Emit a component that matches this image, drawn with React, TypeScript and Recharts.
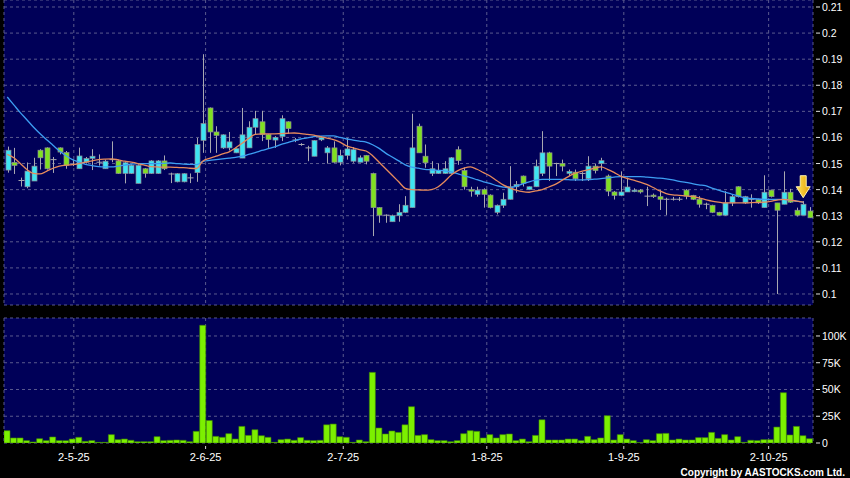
import React from 'react';
import { ComposedChart, Bar, Line, XAxis, YAxis, CartesianGrid, ReferenceDot } from 'recharts';

// ---- Data (124 trading days) ----
const openP = [
  0.1475, 0.1504, 0.1435, 0.1411, 0.1433, 0.1551, 0.156, 0.1515, 0.156, 0.1542,
  0.1497, 0.148, 0.1505, 0.152, 0.1505, 0.148, 0.1515, 0.151, 0.1462, 0.1462,
  0.1424, 0.148, 0.1462, 0.1462, 0.151, 0.146, 0.143, 0.143, 0.1445, 0.1465,
  0.1589, 0.1713, 0.1621, 0.156, 0.156, 0.1541, 0.1521, 0.156, 0.1639, 0.166,
  0.1611, 0.159, 0.1604, 0.166, 0.159, 0.1573, 0.156, 0.1528, 0.1591, 0.1541,
  0.156, 0.1505, 0.1531, 0.1509, 0.1505, 0.1531, 0.1462, 0.1331, 0.1302, 0.1277,
  0.13, 0.1313, 0.1331, 0.1643, 0.1528, 0.1462, 0.1462, 0.1462, 0.1462, 0.1553,
  0.1473, 0.14, 0.1382, 0.14, 0.1379, 0.1313, 0.134, 0.1363, 0.1411, 0.1452,
  0.14, 0.1411, 0.1462, 0.1541, 0.15, 0.15, 0.1462, 0.1467, 0.1462, 0.1442,
  0.149, 0.15, 0.1452, 0.1391, 0.1378, 0.1391, 0.1393, 0.1398, 0.1375, 0.1379,
  0.1373, 0.1363, 0.1363, 0.1363, 0.1398, 0.1378, 0.1363, 0.1344, 0.134, 0.1313,
  0.1302, 0.1349, 0.1411, 0.1349, 0.1363, 0.1363, 0.1331, 0.1398, 0.1349, 0.1344,
  0.139, 0.1321, 0.1302, 0.1318,
];
const highP = [
  0.1565, 0.156, 0.1446, 0.1504, 0.1522, 0.1555, 0.1562, 0.1525, 0.1562, 0.1548,
  0.1515, 0.1561, 0.1525, 0.1555, 0.1535, 0.1515, 0.1585, 0.1515, 0.1506, 0.1497,
  0.1497, 0.1483, 0.1513, 0.1513, 0.1531, 0.1465, 0.1463, 0.1463, 0.1462, 0.1598,
  0.1919, 0.1715, 0.1643, 0.1612, 0.1621, 0.1558, 0.1713, 0.1662, 0.1702, 0.1702,
  0.1613, 0.1605, 0.1685, 0.1662, 0.1598, 0.1578, 0.1568, 0.159, 0.1605, 0.1567,
  0.1585, 0.1553, 0.1598, 0.1563, 0.1531, 0.1533, 0.1465, 0.1333, 0.1305, 0.1304,
  0.1344, 0.1375, 0.1691, 0.1653, 0.1573, 0.1509, 0.15, 0.1509, 0.1525, 0.1566,
  0.1485, 0.1411, 0.1411, 0.1405, 0.1382, 0.1343, 0.1388, 0.149, 0.1433, 0.1454,
  0.1412, 0.1515, 0.1624, 0.1545, 0.1503, 0.1515, 0.1477, 0.1477, 0.1467, 0.1528,
  0.15, 0.1522, 0.1458, 0.1395, 0.147, 0.1446, 0.1405, 0.1402, 0.1411, 0.1385,
  0.1398, 0.1369, 0.1372, 0.1372, 0.1402, 0.138, 0.1375, 0.135, 0.1342, 0.1315,
  0.1394, 0.1383, 0.1413, 0.1376, 0.1382, 0.1365, 0.1455, 0.14, 0.1349, 0.147,
  0.1403, 0.1331, 0.1356, 0.1333,
];
const lowP = [
  0.1465, 0.146, 0.1412, 0.1405, 0.1433, 0.1477, 0.1477, 0.1464, 0.1535, 0.148,
  0.149, 0.148, 0.15, 0.1475, 0.1492, 0.148, 0.1505, 0.146, 0.1424, 0.146,
  0.1424, 0.1446, 0.146, 0.146, 0.1475, 0.1425, 0.1428, 0.1428, 0.1425, 0.143,
  0.1541, 0.1541, 0.1541, 0.1556, 0.155, 0.154, 0.1521, 0.156, 0.161, 0.1586,
  0.156, 0.156, 0.1586, 0.1614, 0.1582, 0.1568, 0.1509, 0.1528, 0.1586, 0.15,
  0.1503, 0.1493, 0.1515, 0.1503, 0.1505, 0.1497, 0.1222, 0.1273, 0.1273, 0.1277,
  0.1277, 0.131, 0.1331, 0.1541, 0.1484, 0.1452, 0.146, 0.146, 0.146, 0.1495,
  0.14, 0.1373, 0.1373, 0.1331, 0.1328, 0.1305, 0.133, 0.1362, 0.1388, 0.1412,
  0.1398, 0.141, 0.1452, 0.1433, 0.1452, 0.147, 0.1452, 0.1433, 0.1433, 0.1433,
  0.1462, 0.1473, 0.1375, 0.1362, 0.1375, 0.1391, 0.139, 0.1385, 0.1337, 0.1368,
  0.1322, 0.1303, 0.1358, 0.1356, 0.1363, 0.136, 0.1331, 0.1325, 0.131, 0.13,
  0.13, 0.1337, 0.137, 0.1345, 0.1331, 0.1345, 0.1331, 0.137, 0.1, 0.1344,
  0.1349, 0.1297, 0.1302, 0.1292,
];
const closeP = [
  0.1551, 0.1493, 0.1435, 0.1471, 0.149, 0.1522, 0.148, 0.1515, 0.1544, 0.1493,
  0.1497, 0.1529, 0.1519, 0.1528, 0.1505, 0.1509, 0.1515, 0.1462, 0.1503, 0.1493,
  0.1493, 0.1462, 0.151, 0.151, 0.148, 0.146, 0.1461, 0.1461, 0.1445, 0.1573,
  0.1653, 0.1621, 0.1608, 0.161, 0.1583, 0.1557, 0.161, 0.1639, 0.1672, 0.1611,
  0.1592, 0.16, 0.1672, 0.1634, 0.159, 0.1573, 0.156, 0.1588, 0.16, 0.156,
  0.1505, 0.1531, 0.1556, 0.1553, 0.1522, 0.1509, 0.1331, 0.1302, 0.1302, 0.13,
  0.1313, 0.134, 0.156, 0.1541, 0.1503, 0.148, 0.1473, 0.148, 0.1522, 0.1511,
  0.1411, 0.1394, 0.1398, 0.1382, 0.1331, 0.134, 0.1363, 0.1411, 0.142, 0.1424,
  0.1411, 0.149, 0.1541, 0.149, 0.15, 0.149, 0.147, 0.1442, 0.1462, 0.149,
  0.1473, 0.1511, 0.1394, 0.1378, 0.1391, 0.141, 0.1398, 0.1391, 0.1375, 0.1373,
  0.1363, 0.1363, 0.1363, 0.1363, 0.1375, 0.1363, 0.1344, 0.1344, 0.1313, 0.1302,
  0.1349, 0.1373, 0.1373, 0.1373, 0.1363, 0.1349, 0.139, 0.1373, 0.1321, 0.139,
  0.1352, 0.1302, 0.1344, 0.1292,
];
const volume = [
  11500, 4700, 4700, 2200, 900, 4000, 2200, 5600, 2200, 2200,
  3700, 5300, 1500, 2200, 600, 600, 7800, 3100, 3700, 2500,
  1200, 1200, 1200, 5900, 2200, 2500, 2800, 2500, 1200, 10900,
  110000, 21000, 6200, 5300, 8700, 3700, 15500, 7100, 12400, 6800,
  5300, 600, 3100, 3700, 2500, 5000, 2500, 2200, 2500, 17000,
  17700, 5900, 5300, 600, 2800, 1200, 66000, 14000, 8400, 11200,
  9900, 17000, 33900, 7100, 7800, 3100, 2200, 2200, 1200, 2200,
  8700, 11500, 10900, 4700, 7800, 4700, 7800, 8400, 2200, 3700,
  1200, 7100, 21700, 2800, 2800, 2800, 3700, 3700, 2200, 6200,
  3100, 4700, 25500, 2800, 7800, 3700, 2200, 300, 3100, 2200,
  8700, 9000, 2800, 3700, 2800, 2800, 5000, 5000, 9900, 4300,
  7800, 2800, 5900, 600, 2500, 2200, 3100, 3100, 14900, 47000,
  7500, 15500, 6800, 4000,
];
const ma10 = [
  0.1535, 0.1522, 0.15, 0.1477, 0.1462, 0.146, 0.147, 0.1482, 0.149, 0.1494,
  0.1496, 0.15, 0.1505, 0.151, 0.1515, 0.1517, 0.1518, 0.1514, 0.1509, 0.1505,
  0.15, 0.1494, 0.1488, 0.1487, 0.1486, 0.1486, 0.1485, 0.1484, 0.1482, 0.1481,
  0.151, 0.152, 0.1528, 0.1537, 0.1545, 0.156, 0.1578, 0.1596, 0.1612, 0.1614,
  0.1614, 0.1614, 0.1615, 0.1616, 0.1617, 0.1615, 0.1612, 0.1609, 0.1603, 0.1597,
  0.1592, 0.1582, 0.1568, 0.156, 0.1553, 0.1548, 0.153, 0.1505, 0.148, 0.1455,
  0.143, 0.1405, 0.14, 0.1399, 0.1398, 0.14, 0.141, 0.143, 0.1455, 0.1472,
  0.1482, 0.1487, 0.1478, 0.1465, 0.1452, 0.1435, 0.1418, 0.1407, 0.1398, 0.1392,
  0.139, 0.1395, 0.14, 0.141, 0.142, 0.1435, 0.145, 0.1462, 0.147, 0.1476,
  0.1482, 0.1487, 0.1478, 0.1466, 0.1452, 0.1443, 0.1436, 0.1429, 0.142, 0.1408,
  0.1395, 0.1385, 0.138, 0.1378, 0.1376, 0.1374, 0.1368, 0.1362, 0.1356, 0.1352,
  0.1349, 0.1349, 0.1349, 0.1349, 0.135, 0.1351, 0.1352, 0.1355, 0.136, 0.1363,
  0.136, 0.1356, 0.1352, null,
];
const ma20 = [
  0.1755, 0.1725, 0.1695, 0.1668, 0.164, 0.1615, 0.1592, 0.157, 0.1548, 0.153,
  0.1515, 0.1505, 0.1497, 0.1492, 0.1488, 0.1487, 0.1487, 0.149, 0.1494, 0.1498,
  0.15, 0.15, 0.15, 0.15, 0.1501, 0.1502, 0.15, 0.1498, 0.1497, 0.1496,
  0.1508, 0.1512, 0.1515, 0.1518, 0.1521, 0.1524, 0.1528, 0.1535, 0.1542, 0.155,
  0.1557, 0.1564, 0.1573, 0.158, 0.1588, 0.1594, 0.1598, 0.1603, 0.1605, 0.1606,
  0.1606, 0.16, 0.1594, 0.159, 0.1586, 0.1582, 0.1572, 0.1558, 0.154, 0.1525,
  0.151, 0.1495, 0.1486, 0.1482, 0.1478, 0.1476, 0.1474, 0.1472, 0.1468, 0.1461,
  0.1453, 0.1446, 0.1438, 0.143, 0.1424, 0.1415, 0.141, 0.1407, 0.1413, 0.1422,
  0.143, 0.1436, 0.1439, 0.1439, 0.1439, 0.1439, 0.1438, 0.1437, 0.1437, 0.1438,
  0.144, 0.1442, 0.1445, 0.1448, 0.145, 0.145, 0.145, 0.145, 0.1448, 0.1446,
  0.1444, 0.1441, 0.1437, 0.1432, 0.1428, 0.1423, 0.1418, 0.1415, 0.1406, 0.1398,
  0.139, 0.1383, 0.1376, 0.1369, 0.1366, 0.1364, 0.1363, 0.1363, 0.1363, 0.1363,
  0.136, 0.1356, 0.1352, null,
];
const dateLabels = ['2-5-25', '2-6-25', '2-7-25', '1-8-25', '1-9-25', '2-10-25'];
const dateTickIndex = [10.2, 30.4, 51.5, 73.5, 94.5, 116.7];
const priceTicks = [0.1, 0.11, 0.12, 0.13, 0.14, 0.15, 0.16, 0.17, 0.18, 0.19, 0.2, 0.21];
const volumeTicks = [0, 25000, 50000, 75000, 100000];
const volumeLabels = ['0', '25K', '50K', '75K', '100K'];
const markerIndex = 122;
const markerPrice = 0.1369;

const data = openP.map((o, i) => ({
  i,
  open: o,
  high: highP[i],
  low: lowP[i],
  close: closeP[i],
  range: [lowP[i], highP[i]],
  vol: volume[i],
  ma10: ma10[i],
  ma20: ma20[i],
}));

// ---- Styles ----
const NAVY = '#000058';
const GRID = '#5a5a8e';
const CYAN = '#3ee4f2';
const GREEN = '#80e021';
const WICK = '#a8a8b0';
const BORDER = '#8c8c96';
const LIME = '#7cf000';
const FONT = '"Liberation Sans", Arial, sans-serif';

const Candle = (props: any) => {
  const { x, y, width, height, payload } = props;
  if (!payload || height == null || y == null) return null;
  const { open, close, high, low } = payload;
  const top = Math.min(y, y + height);
  const h = Math.abs(height);
  const k = high > low ? h / (high - low) : 0;
  const py = (v: number) => top + (high - v) * k;
  const cx = Math.round(x + width / 2) + 0.5;
  const yo = py(open);
  const yc = py(close);
  const bTop = Math.min(yo, yc);
  const bH = Math.abs(yo - yc);
  const color = close > open ? CYAN : close < open ? GREEN : null;
  return (
    <g>
      <line x1={cx} x2={cx} y1={top} y2={top + h} stroke={WICK} strokeWidth={1} />
      {color ? (
        <rect x={cx - 2.5} y={bTop} width={5} height={Math.max(bH, 1.5)} fill={color} stroke={BORDER} strokeWidth={0.7} />
      ) : (
        <line x1={cx - 3} x2={cx + 3} y1={yo} y2={yo} stroke={WICK} strokeWidth={1} />
      )}
    </g>
  );
};

const Arrow = (props: any) => {
  const { cx, cy } = props;
  if (cx == null || cy == null) return null;
  const pts = [
    [cx - 3, cy - 22],
    [cx + 3, cy - 22],
    [cx + 3, cy - 11],
    [cx + 7, cy - 11],
    [cx, cy],
    [cx - 7, cy - 11],
    [cx - 3, cy - 11],
  ]
    .map((p) => p.join(','))
    .join(' ');
  return (
    <g>
      <defs>
        <linearGradient id="arrowGrad" x1="0" x2="1" y1="0" y2="0">
          <stop offset="0%" stopColor="#ffe25a" />
          <stop offset="100%" stopColor="#e8a200" />
        </linearGradient>
      </defs>
      <polygon points={pts} fill="url(#arrowGrad)" stroke="#fff2b0" strokeWidth={1} />
    </g>
  );
};

const PriceTick = (props: any) => {
  const { x, y, payload } = props;
  const label = String(Number(Number(payload.value).toFixed(2)));
  return (
    <g>
      <line x1={x - 6} x2={x - 2} y1={y} y2={y} stroke="#e0e0e0" strokeWidth={1} />
      <text x={x} y={y} dy={4} fill="#ffffff" fontSize={10.5} fontFamily={FONT} textAnchor="start">
        {label}
      </text>
    </g>
  );
};

const VolTick = (props: any) => {
  const { x, y, payload } = props;
  const idx = volumeTicks.indexOf(payload.value);
  return (
    <g>
      <line x1={x - 6} x2={x - 2} y1={y} y2={y} stroke="#e0e0e0" strokeWidth={1} />
      <text x={x} y={y} dy={4} fill="#ffffff" fontSize={10.5} fontFamily={FONT} textAnchor="start">
        {idx >= 0 ? volumeLabels[idx] : ''}
      </text>
    </g>
  );
};

const DateTick = (props: any) => {
  const { x, y, payload } = props;
  const idx = dateTickIndex.indexOf(payload.value);
  return (
    <g>
      <line x1={x} x2={x} y1={y - 3} y2={y} stroke="#d0d0d0" strokeWidth={1} />
      <text x={x} y={y + 12} fill="#ffffff" fontSize={11} fontFamily={FONT} textAnchor="middle">
        {idx >= 0 ? dateLabels[idx] : ''}
      </text>
    </g>
  );
};

export default function App() {
  return (
    <div style={{ position: 'absolute', left: 0, top: 0, width: 850, height: 478, background: '#000', overflow: 'hidden' }}>
      <ComposedChart width={850} height={310} data={data} margin={{ top: 0, right: 0, left: 4, bottom: 5 }}>
        <CartesianGrid fill={NAVY} stroke={GRID} strokeDasharray="3 3" verticalPoints={undefined} />
        <XAxis dataKey="i" type="number" domain={[-0.5, 123.5]} ticks={dateTickIndex} allowDataOverflow hide />
        <YAxis
          orientation="right"
          width={37}
          type="number"
          domain={[0.09578, 0.21268]}
          ticks={priceTicks}
          allowDataOverflow
          axisLine={false}
          tickLine={false}
          tickSize={7}
          tickMargin={2}
          interval={0}
          tick={(p: any) => <PriceTick {...p} />}
        />
        <Bar dataKey="range" barSize={5} isAnimationActive={false} shape={(p: any) => <Candle {...p} />} />
        <Line dataKey="ma20" type="monotone" stroke="#3d9ef2" strokeWidth={1.3} dot={false} isAnimationActive={false} />
        <Line dataKey="ma10" type="monotone" stroke="#e68a5c" strokeWidth={1.3} dot={false} isAnimationActive={false} />
        <ReferenceDot x={markerIndex} y={markerPrice} shape={(p: any) => <Arrow {...p} />} />
      </ComposedChart>
      <ComposedChart width={850} height={168} data={data} margin={{ top: 8, right: 0, left: 4, bottom: 0 }}>
        <CartesianGrid fill={NAVY} stroke={GRID} strokeDasharray="3 3" />
        <XAxis
          dataKey="i"
          type="number"
          domain={[-0.5, 123.5]}
          ticks={dateTickIndex}
          allowDataOverflow
          height={35}
          axisLine={false}
          tickLine={false}
          tickSize={4}
          tickMargin={2}
          interval={0}
          tick={(p: any) => <DateTick {...p} />}
        />
        <YAxis
          orientation="right"
          width={37}
          type="number"
          domain={[0, 116800]}
          ticks={volumeTicks}
          allowDataOverflow
          axisLine={false}
          tickLine={false}
          tickSize={7}
          tickMargin={2}
          interval={0}
          tick={(p: any) => <VolTick {...p} />}
        />
        <Bar dataKey="vol" barSize={6} fill={LIME} stroke="#3f8a00" strokeWidth={0.6} isAnimationActive={false} />
      </ComposedChart>
      <svg width={850} height={478} style={{ position: 'absolute', left: 0, top: 0, pointerEvents: 'none' }}>
        <text x={845} y={476} textAnchor="end" fill="#ffffff" fontSize={10} fontWeight="bold" fontFamily={FONT}>
          Copyright by AASTOCKS.com Ltd.
        </text>
      </svg>
    </div>
  );
}
